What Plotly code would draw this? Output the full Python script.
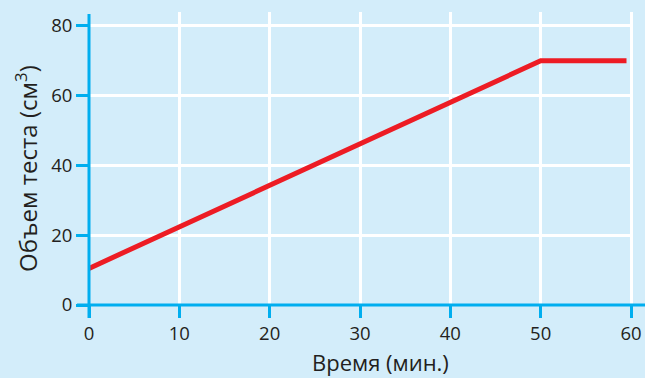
import plotly.graph_objects as go

# Dough volume over time
time_min = [0, 50, 59.5]
volume_cm3 = [10.5, 70, 70]

x_ticks = [0, 10, 20, 30, 40, 50, 60]
y_ticks = [0, 20, 40, 60, 80]

BG = "#d3edfa"
BLUE = "#00aeef"
RED = "#ed1c24"
TEXT = "#231f20"
FONT = "Open Sans"

fig = go.Figure()
fig.add_trace(go.Scatter(
    x=time_min, y=volume_cm3, mode="lines",
    line=dict(color=RED, width=5), hoverinfo="skip", cliponaxis=False,
))

fig.update_layout(
    width=645, height=378,
    margin=dict(l=89, r=12, t=12, b=73, autoexpand=False),
    paper_bgcolor=BG, plot_bgcolor=BG,
    showlegend=False,
    font=dict(family=FONT, color=TEXT),
    xaxis=dict(
        range=[0, 60.22], tickvals=x_ticks, ticktext=[str(v) for v in x_ticks],
        showgrid=True, gridcolor="white", gridwidth=2.5,
        zeroline=False, showline=False, automargin=False,
        ticks="outside", ticklen=12, tickwidth=3, tickcolor=BLUE,
        tickfont=dict(size=18.5, color=TEXT, family=FONT),
    ),
    yaxis=dict(
        range=[0, 84], tickvals=y_ticks, ticktext=[str(v) for v in y_ticks],
        showgrid=True, gridcolor="white", gridwidth=2.5,
        zeroline=False, showline=False, automargin=False,
        ticks="outside", ticklen=12, tickwidth=3, tickcolor=BLUE,
        tickfont=dict(size=18.5, color=TEXT, family=FONT),
    ),
    shapes=[
        dict(type="line", xref="paper", yref="paper", x0=0, x1=0,
             y0=-0.044, y1=0.993, line=dict(color=BLUE, width=3), layer="above"),
        dict(type="line", xref="paper", yref="paper", x0=-0.022, x1=1.03,
             y0=0, y1=0, line=dict(color=BLUE, width=3), layer="above"),
    ],
    annotations=[
        dict(text="Время (мин.)", xref="paper", yref="paper", x=0.535, y=-0.195,
             showarrow=False, font=dict(size=22, color=TEXT, family=FONT),
             xanchor="center", yanchor="middle"),
        dict(text="Объем теста (см<sup>3</sup>)", xref="paper", yref="paper",
             x=-0.114, y=0.4676, textangle=-90, showarrow=False,
             font=dict(size=24, color=TEXT, family=FONT),
             xanchor="center", yanchor="middle"),
    ],
)

fig.write_html("out.html")
